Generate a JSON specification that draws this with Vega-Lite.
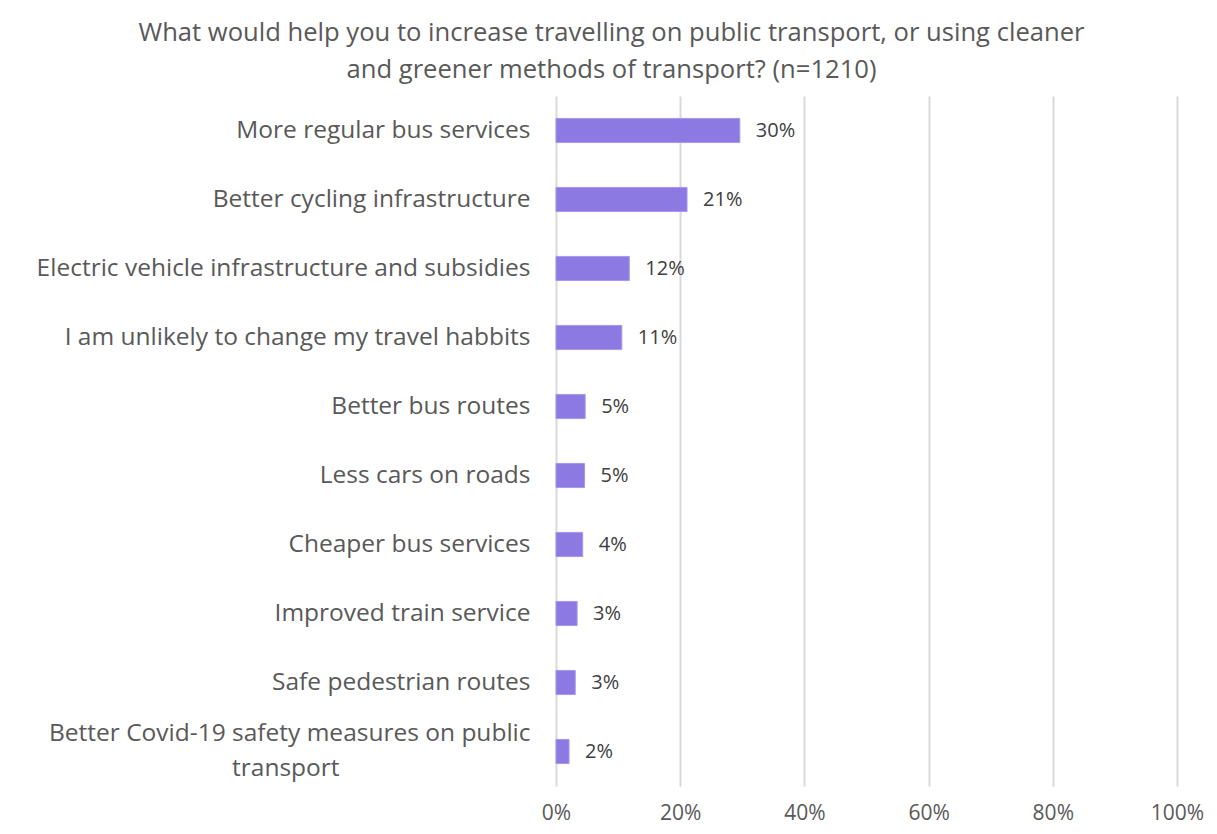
{
  "$schema": "https://vega.github.io/schema/vega-lite/v6.json",
  "autosize": {"type": "none"},
  "width": 621,
  "height": 690,
  "padding": {"left": 556, "top": 96, "right": 40, "bottom": 48},
  "background": "white",
  "title": {
    "text": ["What would help you to increase travelling on public transport, or using cleaner", "and greener methods of transport? (n=1210)"],
    "anchor": "middle",
    "frame": "group",
    "dx": -255,
    "offset": 12,
    "font": "Open Sans",
    "fontSize": 25.6,
    "fontWeight": "normal",
    "color": "#595959",
    "lineHeight": 37
  },
  "data": {
    "values": [
      {"option": "More regular bus services", "share": 0.296},
      {"option": "Better cycling infrastructure", "share": 0.211},
      {"option": "Electric vehicle infrastructure and subsidies", "share": 0.118},
      {"option": "I am unlikely to change my travel habbits", "share": 0.106},
      {"option": "Better bus routes", "share": 0.047},
      {"option": "Less cars on roads", "share": 0.046},
      {"option": "Cheaper bus services", "share": 0.043},
      {"option": "Improved train service", "share": 0.034},
      {"option": "Safe pedestrian routes", "share": 0.031},
      {"option": "Better Covid-19 safety measures on public transport", "share": 0.021}
    ]
  },
  "encoding": {
    "y": {
      "field": "option",
      "type": "nominal",
      "sort": null,
      "scale": {"paddingInner": 0.65, "paddingOuter": 0.325},
      "axis": {
        "title": null,
        "ticks": false,
        "domain": false,
        "labelPadding": 26,
        "labelFont": "Open Sans",
        "labelFontSize": 24.5,
        "labelColor": "#595959",
        "labelLimit": 600,
        "labelLineHeight": 35,
        "labelOffset": {"condition": {"test": "datum.value == 'Better Covid-19 safety measures on public transport'", "value": -18}, "value": 0},
        "labelExpr": "datum.label == 'Better Covid-19 safety measures on public transport' ? ['Better Covid-19 safety measures on public', 'transport\u00a0\u00a0\u00a0\u00a0\u00a0\u00a0\u00a0\u00a0\u00a0\u00a0\u00a0\u00a0\u00a0\u00a0\u00a0\u00a0\u00a0\u00a0\u00a0\u00a0\u00a0\u00a0\u00a0\u00a0\u00a0\u00a0\u00a0\u00a0\u00a0\u00a0\u2060'] : datum.label"
      }
    },
    "x": {
      "field": "share",
      "type": "quantitative",
      "scale": {"domain": [0, 1], "nice": false},
      "axis": {
        "title": null,
        "format": ".0%",
        "values": [0, 0.2, 0.4, 0.6, 0.8, 1],
        "ticks": false,
        "domain": false,
        "labelPadding": 16,
        "labelFont": "Open Sans",
        "labelFontSize": 21,
        "labelColor": "#595959",
        "grid": true,
        "gridColor": "#d9d9d9",
        "gridWidth": 2,
        "labelFlush": false
      }
    }
  },
  "layer": [
    {
      "mark": {"type": "bar", "color": "#8c79e2", "stroke": "#a898ee", "strokeWidth": 1}
    },
    {
      "mark": {"type": "text", "align": "left", "dx": 16, "font": "Open Sans", "fontSize": 20, "color": "#404040"},
      "encoding": {
        "text": {"field": "share", "type": "quantitative", "format": ".0%"}
      }
    }
  ],
  "config": {"view": {"stroke": null}}
}
